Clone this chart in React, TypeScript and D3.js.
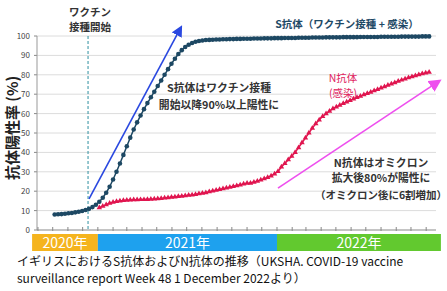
import React from "react";
import * as d3 from "d3";

// weekly S-antibody positivity (%) from 2020-10-05
const sStart = new Date(2020, 9, 5);
const sValues = [
  8.0, 8.1, 8.2, 8.4, 8.6, 8.8, 9.1, 9.4, 9.8, 10.3,
  10.9, 11.8, 13.0, 14.6, 16.6, 19.2, 22.3, 26.0, 30.0, 34.3,
  38.7, 43.2, 47.6, 51.8, 55.5, 59.0, 62.3, 65.4, 68.4, 71.3,
  74.2, 77.1, 80.0, 82.9, 85.7, 88.3, 90.7, 92.7, 94.3, 95.5,
  96.4, 97.0, 97.4, 97.7, 97.9,
  98.0, 98.1, 98.2, 98.2, 98.3, 98.3, 98.4, 98.4, 98.5, 98.5,
  98.6, 98.6, 98.6, 98.7, 98.7, 98.7, 98.8, 98.8, 98.8, 98.9,
  98.9, 98.9, 99.0, 99.0, 99.0, 99.0, 99.1, 99.1, 99.1, 99.1,
  99.2, 99.2, 99.2, 99.2, 99.3, 99.3, 99.3, 99.3, 99.3, 99.4,
  99.4, 99.4, 99.4, 99.4, 99.5, 99.5, 99.5, 99.5, 99.5, 99.5,
  99.6, 99.6, 99.6, 99.6, 99.6, 99.6, 99.7, 99.7, 99.7, 99.7,
  99.7, 99.7, 99.8, 99.8, 99.8,
];

// weekly N-antibody positivity (%) from 2021-01-04
const nStart = new Date(2021, 0, 4);
const nValues = [
  11.5, 12.3, 13.1, 13.8, 14.3, 14.7, 15.0, 15.2, 15.4, 15.5,
  15.6, 15.6, 15.7, 15.7, 15.8, 15.9, 16.0, 16.1, 16.3, 16.5,
  16.7, 16.9, 17.1, 17.3, 17.5, 17.7, 17.9, 18.1, 18.4, 18.7,
  19.0, 19.3, 19.7, 20.1, 20.5, 20.9, 21.3, 21.7, 22.1, 22.5,
  22.9, 23.3, 23.7, 24.1, 24.2, 24.7, 25.2, 25.8, 26.4, 27.1,
  27.9, 28.9, 30.2,
  32.5, 34.3, 36.2, 38.0, 40.0, 42.5, 45.0, 47.5, 50.0, 52.5,
  54.8, 56.8, 58.5, 60.0, 61.3, 62.5, 63.5, 64.4, 65.2, 66.0,
  66.8, 67.6, 68.3, 69.0, 69.7, 70.4, 71.1, 71.8, 72.5, 73.2,
  73.9, 74.6, 75.3, 76.0, 76.7, 77.3, 77.9, 78.5, 79.1, 79.6,
  80.1, 80.6, 81.0, 81.4,
];

const yTicks = [0, 10, 20, 30, 40, 50, 60, 70, 80, 90, 100];
const years = [
  { label: "2020年", from: new Date(2020, 7, 20), to: new Date(2021, 0, 1), color: "#f5b41e" },
  { label: "2021年", from: new Date(2021, 0, 1), to: new Date(2022, 0, 1), color: "#1ea1ee" },
  { label: "2022年", from: new Date(2022, 0, 1), to: new Date(2022, 11, 1), color: "#62c92f" },
];
const vaccineDate = new Date(2020, 11, 12);
// annotation arrows, in data units
const blueArrow = [{ d: new Date(2020, 11, 14), v: 16 }, { d: new Date(2021, 5, 13), v: 101.5 }];
const pinkArrow = [{ d: new Date(2022, 0, 3), v: 21.6 }, { d: new Date(2022, 10, 15), v: 74.7 }];

const FONT = "'Noto Sans CJK JP', 'Noto Sans', sans-serif";

const weekly = (start: Date, vals: number[]) =>
  vals.map((v, i) => ({ d: d3.timeDay.offset(start, i * 7), v }));

export default function App() {
  const width = 447;
  const height = 291;

  const x = d3.scaleTime()
    .domain([new Date(2020, 7, 30), new Date(2022, 10, 21)])
    .range([37, 436]);
  const y = d3.scaleLinear().domain([0, 100]).range([230, 36]);

  const sData = weekly(sStart, sValues);
  const nData = weekly(nStart, nValues);

  const line = d3.line<{ d: Date; v: number }>()
    .x(p => x(p.d))
    .y(p => y(p.v));

  const tri = d3.symbol().type(d3.symbolTriangle).size(13)()!;
  const months = d3.timeMonth.range(new Date(2020, 8, 1), new Date(2022, 11, 1));

  const arrow = (pts: { d: Date; v: number }[], color: string, id: string) => (
    <line
      x1={x(pts[0].d)} y1={y(pts[0].v)}
      x2={x(pts[1].d)} y2={y(pts[1].v)}
      stroke={color} strokeWidth={1.6} markerEnd={`url(#${id})`}
    />
  );

  return (
    <svg width={width} height={height} style={{ position: "absolute", left: 0, top: 0, background: "#fff" }}
      fontFamily={FONT}>
      <defs>
        <marker id="headBlue" viewBox="0 0 10 10" refX="2" refY="5" markerWidth="7" markerHeight="7" orient="auto">
          <path d="M0,0 L10,5 L0,10 Z" fill="#2a48e0" />
        </marker>
        <marker id="headPink" viewBox="0 0 10 10" refX="2" refY="5" markerWidth="8" markerHeight="8" orient="auto">
          <path d="M0,0 L10,5 L0,10 Z" fill="#ee4fee" />
        </marker>
      </defs>

      {/* gridlines and y axis */}
      {yTicks.map(t => (
        <g key={t}>
          {t > 0 && <line x1={37} x2={436} y1={y(t)} y2={y(t)} stroke="#dcdcdc" strokeWidth={1} />}
          <line x1={34} x2={37} y1={y(t)} y2={y(t)} stroke="#888" />
          <text x={30} y={y(t) + 3} fontSize={8} textAnchor="end" fill="#444">{t}</text>
        </g>
      ))}
      <line x1={37} x2={37} y1={36} y2={230} stroke="#999" />
      <line x1={37} x2={436} y1={230} y2={230} stroke="#888" />
      {months.map((m, i) => (
        <line key={i} x1={x(m)} x2={x(m)} y1={227} y2={231} stroke="#888" />
      ))}

      {/* vaccine start */}
      <line x1={x(vaccineDate)} x2={x(vaccineDate)} y1={y(100)} y2={y(0)}
        stroke="#2e8fa0" strokeDasharray="3,2" strokeWidth={1} />

      {/* year bar */}
      {years.map(yr => (
        <g key={yr.label}>
          <rect x={x(yr.from)} y={234} width={x(yr.to) - x(yr.from)} height={17} fill={yr.color} />
          <text x={(x(yr.from) + x(yr.to)) / 2} y={248} fontSize={14} textAnchor="middle" fill="#fff">{yr.label}</text>
        </g>
      ))}

      {/* S antibody */}
      <path d={line(sData)!} fill="none" stroke="#1d4863" strokeWidth={1.5} />
      {sData.map((p, i) => (
        <circle key={i} cx={x(p.d)} cy={y(p.v)} r={2.3} fill="#1d4863" />
      ))}

      {/* N antibody */}
      <path d={line(nData)!} fill="none" stroke="#e0154f" strokeWidth={1.5} />
      {nData.map((p, i) => (
        <path key={i} d={tri} transform={`translate(${x(p.d)},${y(p.v)})`} fill="#e0154f" />
      ))}

      {arrow(blueArrow, "#2a48e0", "headBlue")}
      {arrow(pinkArrow, "#ee4fee", "headPink")}

      {/* labels */}
      <text x={90} y={16} fontSize={10.5} fontWeight="bold" textAnchor="middle" fill="#333">ワクチン</text>
      <text x={90} y={31} fontSize={10.5} fontWeight="bold" textAnchor="middle" fill="#333">接種開始</text>

      <text x={347} y={28} fontSize={10.5} fontWeight="bold" textAnchor="middle" fill="#1f4a66">S抗体（ワクチン接種 + 感染）</text>

      <text x={343} y={82} fontSize={10.5} textAnchor="middle" fill="#e0245e">N抗体</text>
      <text x={343} y={97} fontSize={10.5} textAnchor="middle" fill="#e0245e">(感染)</text>

      <text x={219} y={92} fontSize={10.8} fontWeight="bold" textAnchor="middle" fill="#333">S抗体はワクチン接種</text>
      <text x={219} y={109} fontSize={10.8} fontWeight="bold" textAnchor="middle" fill="#333">開始以降90%以上陽性に</text>

      <text x={381} y={167} fontSize={10.8} fontWeight="bold" textAnchor="middle" fill="#333">N抗体はオミクロン</text>
      <text x={381} y={182} fontSize={10.8} fontWeight="bold" textAnchor="middle" fill="#333">拡大後80%が陽性に</text>
      <text x={381} y={199} fontSize={10.5} fontWeight="bold" textAnchor="middle" fill="#333">（オミクロン後に6割増加）</text>

      <text transform="translate(18,128) rotate(-90)" fontSize={15} fontWeight="bold" textAnchor="middle" fill="#222">抗体陽性率 (%)</text>

      <text x={17} y={266} fontSize={12} fill="#111">イギリスにおけるS抗体およびN抗体の推移（UKSHA. COVID-19 vaccine</text>
      <text x={17} y={283} fontSize={12} fill="#111">surveillance report Week 48 1 December 2022より）</text>
    </svg>
  );
}
